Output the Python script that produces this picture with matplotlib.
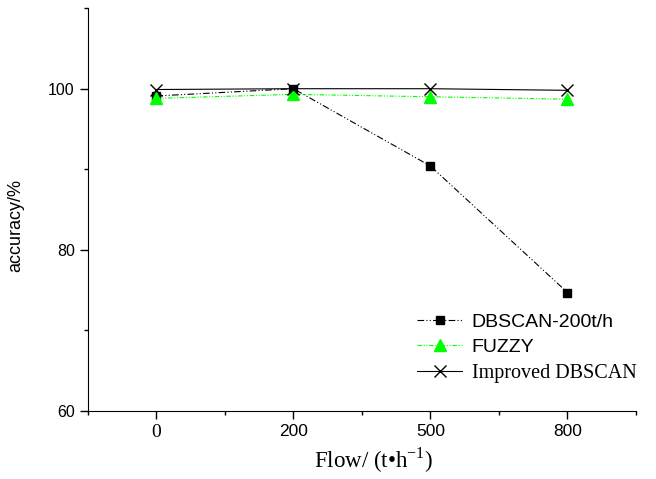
import matplotlib.pyplot as plt
from matplotlib.ticker import MultipleLocator

flows = ['0', '200', '500', '800']
dbscan = [99.1, 100.0, 90.4, 74.7]
fuzzy = [98.8, 99.3, 99.0, 98.7]
improved = [99.9, 100.0, 100.0, 99.8]

plt.rcParams['font.family'] = ['Liberation Sans', 'DejaVu Sans']
plt.rcParams['mathtext.fontset'] = 'custom'
plt.rcParams['mathtext.rm'] = 'Liberation Serif'

fig = plt.figure(figsize=(6.56, 4.79), dpi=100)
ax = fig.add_axes([0.134, 0.142, 0.8355, 0.841])

x = list(range(len(flows)))
ax.plot(x, dbscan, color='black', lw=0.8, ls=(0, (6, 2, 1, 2, 1, 2)),
        marker='s', ms=6, label='DBSCAN-200t/h')
ax.plot(x, fuzzy, color='#00ff00', lw=0.8, ls=(0, (4, 1.5, 1, 1.5, 1, 1.5)),
        marker='^', ms=9, label='FUZZY')
ax.plot(x, improved, color='black', lw=0.8, ls='-',
        marker='x', ms=9, mew=1.0, label='Improved DBSCAN')

ax.set_xlim(-0.5, 3.5)
ax.set_ylim(60, 110)
ax.set_xticks(x)
ax.set_xticklabels(flows, fontsize=12.5)
ax.get_xticklabels()[0].set_family('Liberation Serif')
ax.get_xticklabels()[0].set_fontsize(14)
ax.xaxis.set_minor_locator(MultipleLocator(0.5))
ax.yaxis.set_major_locator(MultipleLocator(20))
ax.yaxis.set_minor_locator(MultipleLocator(10))
ax.tick_params(which='major', direction='out', length=6, width=1)
ax.tick_params(axis='y', which='major', labelsize=11.5)
ax.tick_params(which='minor', direction='out', length=3, width=1)
ax.spines['top'].set_visible(False)
ax.spines['right'].set_visible(False)

ax.set_ylabel('accuracy/%', fontsize=13, labelpad=10)
ax.yaxis.set_label_coords(-0.117, 0.46)
ax.set_xlabel('Flow/ (t\u2022h$^{\\mathregular{-1}}$)', family='Liberation Serif',
              fontsize=16.5, labelpad=5)
ax.xaxis.set_label_coords(0.522, -0.085)

leg = ax.legend(loc='lower left', bbox_to_anchor=(0.587, 0.05), frameon=False,
                fontsize=14, handlelength=2.3, labelspacing=0.4,
                handletextpad=0.5, borderaxespad=0)
leg.get_texts()[2].set_family('Liberation Serif')
leg.get_texts()[2].set_fontsize(14.5)

fig.savefig('out.png', dpi=100)
